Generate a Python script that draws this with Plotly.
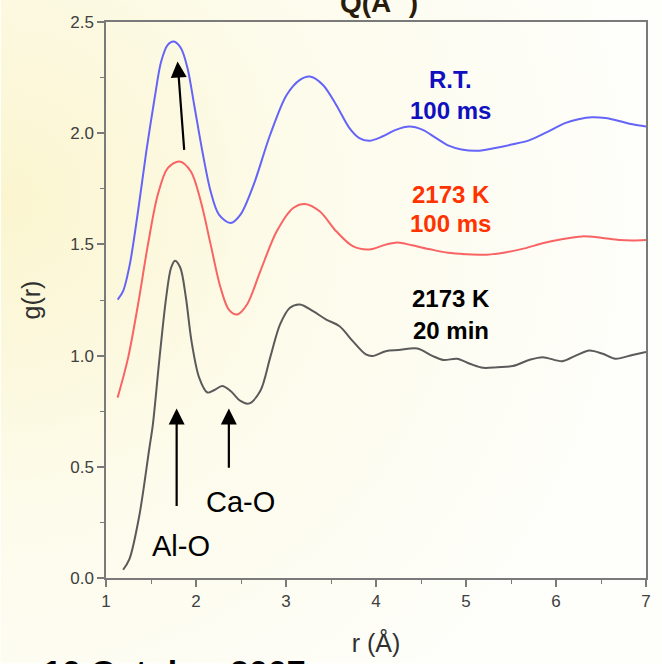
import base64
import plotly.graph_objects as go

# ---- data ----
r_rt = [1.13, 1.19, 1.264, 1.356, 1.448, 1.54, 1.613, 1.686, 1.752, 1.833, 1.906, 1.98, 2.071, 2.163, 2.255,
        2.384, 2.494, 2.64, 2.824, 3.007, 3.155, 3.265, 3.411, 3.558, 3.705, 3.815, 3.925, 4.07, 4.22, 4.37,
        4.52, 4.66, 4.80, 4.95, 5.12, 5.34, 5.52, 5.70, 5.90, 6.10, 6.25, 6.40, 6.55, 6.70, 6.85, 7.00]
g_rt = [1.252, 1.29, 1.409, 1.649, 1.918, 2.157, 2.322, 2.397, 2.412, 2.382, 2.292, 2.127, 1.918, 1.738, 1.634,
        1.596, 1.634, 1.768, 1.993, 2.172, 2.240, 2.255, 2.217, 2.127, 2.023, 1.978, 1.966, 1.985, 2.015, 2.03,
        2.015, 1.98, 1.945, 1.927, 1.921, 1.935, 1.950, 1.968, 2.005, 2.045, 2.063, 2.072, 2.068, 2.055, 2.040,
        2.030]

r_hot = [1.129, 1.246, 1.356, 1.466, 1.576, 1.686, 1.815, 1.943, 2.053, 2.163, 2.273, 2.365, 2.457, 2.567, 2.714,
         2.897, 3.08, 3.21, 3.374, 3.558, 3.742, 3.925, 4.108, 4.24, 4.40, 4.60, 4.80, 5.00, 5.23, 5.45, 5.65,
         5.85, 6.05, 6.29, 6.50, 6.70, 6.85, 7.00]
g_hot = [0.811, 0.991, 1.23, 1.499, 1.724, 1.843, 1.873, 1.828, 1.694, 1.499, 1.305, 1.207, 1.185, 1.23, 1.379,
         1.559, 1.664, 1.682, 1.649, 1.559, 1.492, 1.477, 1.499, 1.508, 1.496, 1.478, 1.462, 1.456, 1.454, 1.465,
         1.482, 1.505, 1.522, 1.536, 1.530, 1.520, 1.518, 1.520]

r_long = [1.19, 1.26, 1.37, 1.48, 1.521, 1.595, 1.668, 1.723, 1.767, 1.826, 1.888, 1.95, 2.035, 2.126, 2.20,
          2.291, 2.384, 2.494, 2.585, 2.714, 2.824, 2.934, 3.044, 3.155, 3.30, 3.447, 3.595, 3.742, 3.888, 3.962,
          4.108, 4.25, 4.46, 4.62, 4.75, 4.90, 5.05, 5.19, 5.35, 5.52, 5.70, 5.85, 6.07, 6.22, 6.37, 6.52, 6.66,
          6.85, 7.00]
g_long = [0.037, 0.085, 0.28, 0.579, 0.691, 0.991, 1.26, 1.395, 1.427, 1.395, 1.26, 1.065, 0.901, 0.834, 0.844,
          0.863, 0.841, 0.796, 0.784, 0.841, 0.991, 1.14, 1.215, 1.23, 1.20, 1.162, 1.132, 1.065, 1.005, 0.998,
          1.02, 1.025, 1.032, 1.000, 0.980, 0.986, 0.962, 0.945, 0.948, 0.953, 0.980, 0.993, 0.975, 1.000, 1.023,
          1.008, 0.986, 1.003, 1.016]

x_ticks = [1, 2, 3, 4, 5, 6, 7]
y_ticks = [0.0, 0.5, 1.0, 1.5, 2.0, 2.5]

# ---- background gradient ----
W, H = 662, 664
ML, MR, MT, MB = 106, 11, 22, 85
PW, PH = W - ML - MR, H - MT - MB
svg = ("<svg xmlns='http://www.w3.org/2000/svg' width='662' height='664'>"
       "<defs><radialGradient id='g' cx='0' cy='0.3' r='1.0'>"
       "<stop offset='0' stop-color='#fbf5cf'/><stop offset='0.45' stop-color='#fdfbea'/>"
       "<stop offset='1' stop-color='#fefefb'/></radialGradient></defs>"
       "<rect width='662' height='664' fill='url(#g)'/></svg>")
bg_src = "data:image/svg+xml;base64," + base64.b64encode(svg.encode()).decode()

fig = go.Figure()
line_opts = dict(width=2, shape="spline", smoothing=0.9)
fig.add_trace(go.Scatter(x=r_rt, y=g_rt, mode="lines", line=dict(color="#6464f8", **line_opts)))
fig.add_trace(go.Scatter(x=r_hot, y=g_hot, mode="lines", line=dict(color="#f86464", **line_opts)))
fig.add_trace(go.Scatter(x=r_long, y=g_long, mode="lines", line=dict(color="#5a5a5a", **line_opts)))

ann = []
# arrows
for (xt, yt, xh, yh) in [(1.87, 1.918, 1.795, 2.322), (1.785, 0.317, 1.785, 0.762), (2.365, 0.489, 2.365, 0.762)]:
    ann.append(dict(x=xh, y=yh, ax=xt, ay=yt, xref="x", yref="y", axref="x", ayref="y", text="",
                    showarrow=True, arrowhead=2, arrowsize=1.45, arrowwidth=2.2, arrowcolor="black"))
lab_font = "Liberation Sans, Arial, sans-serif"
ann.append(dict(x=1.83, y=0.145, xref="x", yref="y", text="Al-O", showarrow=False,
                font=dict(family=lab_font, size=29, color="black")))
ann.append(dict(x=2.49, y=0.34, xref="x", yref="y", text="Ca-O", showarrow=False,
                font=dict(family=lab_font, size=29, color="black")))
for (txt, yy, col) in [("<b>R.T.</b>", 2.24, "#1010c0"), ("<b>100 ms</b>", 2.10, "#1010c0"),
                       ("<b>2173 K</b>", 1.724, "#ff3300"), ("<b>100 ms</b>", 1.593, "#ff3300"),
                       ("<b>2173 K</b>", 1.255, "black"), ("<b>20 min</b>", 1.113, "black")]:
    ann.append(dict(x=4.83, y=yy, xref="x", yref="y", text=txt, showarrow=False,
                    font=dict(family=lab_font, size=24, color=col)))
# clipped slide fragments (top and bottom)
ann.append(dict(x=(382 - ML) / PW, y=1 + (22 - 20) / PH, xref="paper", yref="paper", xanchor="center",
                yanchor="bottom", text="<b>Q(Å<sup>-1</sup>)</b>", showarrow=False,
                font=dict(family=lab_font, size=28, color="#2a1c0c")))
ann.append(dict(x=(40 - ML) / PW, y=(579 - 652) / PH, xref="paper", yref="paper", xanchor="left",
                yanchor="top", text="<b>10 October 2007</b>", showarrow=False,
                font=dict(family=lab_font, size=34, color="black")))

axis_common = dict(showline=True, linecolor="#7a7a7a", linewidth=1.5, mirror=True, ticks="outside",
                   ticklen=7, tickwidth=1.5, tickcolor="#7a7a7a", showgrid=False, zeroline=False,
                   tickfont=dict(family=lab_font, size=17, color="#404040"))

fig.update_layout(
    width=W, height=H, margin=dict(l=ML, r=MR, t=MT, b=MB),
    paper_bgcolor="#fefefa", plot_bgcolor="rgba(0,0,0,0)", showlegend=False,
    images=[dict(source=bg_src, xref="paper", yref="paper", x=-ML / PW, y=1 + MT / PH,
                 sizex=W / PW, sizey=H / PH, sizing="stretch", xanchor="left", yanchor="top", layer="below")],
    annotations=ann,
    xaxis=dict(range=[1, 7], tickvals=x_ticks, ticktext=[str(v) for v in x_ticks],
               minor=dict(dtick=0.5, ticks="outside", ticklen=4, tickcolor="#7a7a7a", tickwidth=1.2),
               title=dict(text="r (Å)", font=dict(family=lab_font, size=25, color="#303030"), standoff=24),
               **axis_common),
    yaxis=dict(range=[0, 2.5], tickvals=y_ticks, ticktext=[f"{v:.1f}" for v in y_ticks],
               minor=dict(dtick=0.25, ticks="outside", ticklen=4, tickcolor="#7a7a7a", tickwidth=1.2),
               title=dict(text="g(r)", font=dict(family=lab_font, size=25, color="#303030"), standoff=22),
               **axis_common),
)

fig.write_html("out.html")
